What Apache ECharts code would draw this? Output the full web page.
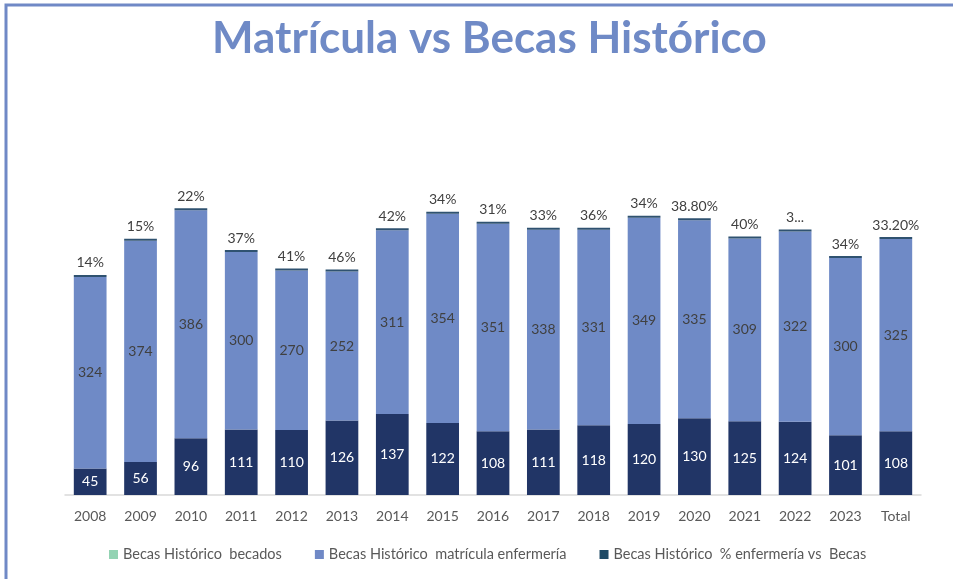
<!DOCTYPE html>
<html>
<head>
<meta charset="utf-8">
<script src="https://cdn.jsdelivr.net/npm/echarts@6/dist/echarts.min.js"></script>
<style>
html,body{margin:0;padding:0;background:#fff;}
#chart{width:953px;height:579px;}
</style>
</head>
<body>
<div id="chart"></div>
<script>
const categories = ['2008','2009','2010','2011','2012','2013','2014','2015','2016','2017','2018','2019','2020','2021','2022','2023','Total'];
const becados = [45,56,96,111,110,126,137,122,108,111,118,120,130,125,124,101,108];
const matricula = [324,374,386,300,270,252,311,354,351,338,331,349,335,309,322,300,325];
const pctValues = [0.14,0.15,0.22,0.37,0.41,0.46,0.42,0.34,0.31,0.33,0.36,0.34,0.388,0.40,0.38,0.34,0.332];
const pctLabels = ['14%','15%','22%','37%','41%','46%','42%','34%','31%','33%','36%','34%','38.80%','40%','3...','34%','33.20%'];
const seriesNames = ['Becas Histórico  becados','Becas Histórico  matrícula enfermería','Becas Histórico  % enfermería vs  Becas'];

const chart = echarts.init(document.getElementById('chart'), null, {renderer:'canvas'});
const font = 'Lato, "Open Sans", sans-serif';
chart.setOption({
  animation:false,
  backgroundColor:'#ffffff',
  title:{
    text:'Matrícula vs Becas Histórico',
    left:207, top:12,
    textStyle:{fontFamily:font, fontSize:44, fontWeight:'bold', color:'#6F8AC6'}
  },
  graphic:[{
    type:'rect', shape:{x:6,y:5,width:1000,height:700},
    style:{fill:'none', stroke:'#7089C6', lineWidth:3}
  }],
  legend:{
    bottom:12, left:104, itemWidth:9, itemHeight:9, itemGap:33,
    textStyle:{fontFamily:font, fontSize:14.5, color:'#595959'},
    data:[
      {name:seriesNames[0], icon:'rect', itemStyle:{color:'#93D3B3'}},
      {name:seriesNames[1], icon:'rect', itemStyle:{color:'#7089C6'}},
      {name:seriesNames[2], icon:'rect', itemStyle:{color:'#1F4A66'}}
    ]
  },
  grid:{left:65, right:32, top:199.5, bottom:84},
  xAxis:{
    type:'category', data:categories,
    axisLine:{lineStyle:{color:'#D9D9D9', width:1.5}},
    axisTick:{show:false},
    axisLabel:{fontFamily:font, fontSize:14, color:'#595959', margin:14}
  },
  yAxis:{type:'value', min:0, max:500, show:false, splitLine:{show:false}},
  series:[
    {name:seriesNames[0], type:'bar', stack:'s', data:becados, barWidth:'65%',
     itemStyle:{color:'#213566'},
     label:{show:true, position:'inside', color:'#ffffff', fontFamily:font, fontSize:14}},
    {name:seriesNames[1], type:'bar', stack:'s', data:matricula,
     itemStyle:{color:'#6F8AC6'},
     label:{show:true, position:'inside', color:'#404040', fontFamily:font, fontSize:14}},
    {name:seriesNames[2], type:'bar', stack:'s', data:pctValues, barMinHeight:2,
     itemStyle:{color:'#2F5270'},
     label:{show:true, position:'top', distance:5, color:'#404040', fontFamily:font, fontSize:14,
       formatter:p=>pctLabels[p.dataIndex]}}
  ]
});
</script>
</body>
</html>
